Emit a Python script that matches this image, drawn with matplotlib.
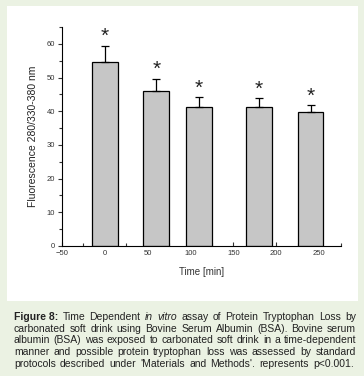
import matplotlib
matplotlib.use('Agg')
import matplotlib.pyplot as plt
from matplotlib.patches import Rectangle
from matplotlib.ticker import MultipleLocator

plt.rcParams['font.family'] = ['Liberation Sans', 'DejaVu Sans']

# data
times = [0, 60, 110, 180, 240]
fluor = [54.7, 46.1, 41.2, 41.2, 39.8]
err = [4.8, 3.6, 3.1, 2.8, 2.1]
stars = ['*', '*', '*', '*', '*']

caption_lines = [
    [('Figure 8:', 'bold'), ('Time', ''), ('Dependent', ''), ('in', 'italic'), ('vitro', 'italic'),
     ('assay', ''), ('of', ''), ('Protein', ''), ('Tryptophan', ''), ('Loss', ''), ('by', '')],
    'carbonated soft drink using Bovine Serum Albumin (BSA). Bovine serum',
    'albumin (BSA) was exposed to carbonated soft drink in a time-dependent',
    'manner and possible protein tryptophan loss was assessed by standard',
    "protocols described under 'Materials and Methods'. represents p<0.001.",
]

W, H = 364, 376
fig = plt.figure(figsize=(W / 100, H / 100), dpi=100, facecolor='#ebf2e3')

# white panel behind the plot
fig.patches.append(Rectangle((7 / W, 1 - 301 / H), 351 / W, 295 / H,
                             transform=fig.transFigure, facecolor='white',
                             edgecolor='none', zorder=-5))

ax = fig.add_axes([62 / W, 1 - 246 / H, 278.5 / W, 219 / H])
ax.set_facecolor('none')
ax.bar(times, fluor, width=30, color='#c6c6c6', edgecolor='black', linewidth=0.9, zorder=2)
ax.errorbar(times, fluor, yerr=[[0] * len(err), err], fmt='none', ecolor='black',
            elinewidth=0.9, capsize=3, capthick=0.9, zorder=3)
for t, v, e, s in zip(times, fluor, err, stars):
    ax.text(t, v + e + 2.6, s, ha='center', va='center', fontsize=15, color='#222222')

ax.set_xlim(-50, 275)
ax.set_ylim(0, 65)
ax.spines['top'].set_visible(False)
ax.spines['right'].set_visible(False)
ax.xaxis.set_major_locator(MultipleLocator(50))
ax.xaxis.set_minor_locator(MultipleLocator(25))
ax.yaxis.set_major_locator(MultipleLocator(10))
ax.yaxis.set_minor_locator(MultipleLocator(5))
ax.tick_params(axis='x', which='both', direction='in', labelsize=5.5, pad=3, colors='#333333')
ax.tick_params(axis='y', which='both', direction='out', labelsize=5.5, pad=2, colors='#333333')
ax.tick_params(which='major', length=3, width=0.8)
ax.tick_params(which='minor', length=2, width=0.8)
ax.set_xlabel('Time [min]', fontsize=7, color='#333333', labelpad=7)
ax.set_ylabel('Fluorescence 280/330-380 nm', fontsize=7.5, color='#222222', labelpad=6)

# justified caption
renderer = fig.canvas.get_renderer()
x0 = 14
ends = [356, 356, 356, 356, 354]
size = 7.45
for i, line in enumerate(caption_lines):
    words = line if isinstance(line, list) else [(w, '') for w in line.split()]
    y = 1 - (320 + i * 11.7) / H
    texts = []
    for w, style in words:
        t = fig.text(0, y, w, fontsize=size, va='baseline', ha='left', color='#222222',
                     fontweight='bold' if style == 'bold' else 'normal',
                     fontstyle='italic' if style == 'italic' else 'normal')
        texts.append(t)
    widths = [t.get_window_extent(renderer).width for t in texts]
    space = (ends[i] - x0 - sum(widths)) / (len(texts) - 1)
    x = x0
    for t, wd in zip(texts, widths):
        t.set_x(x / W)
        x += wd + space

fig.savefig('out.png', dpi=100, facecolor=fig.get_facecolor())
